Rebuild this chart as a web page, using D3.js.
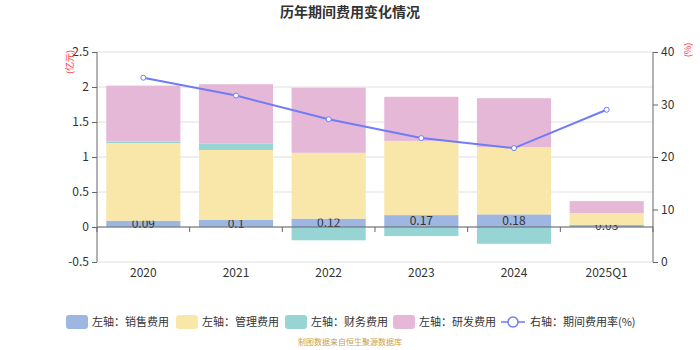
<!DOCTYPE html>
<html><head><meta charset="utf-8">
<script src="https://cdn.jsdelivr.net/npm/d3@7"></script>
<style>body{margin:0;background:#fff}svg{display:block;font-family:"Noto Sans CJK SC","Noto Sans",sans-serif}</style>
</head><body><svg id="c" width="700" height="350"></svg>
<script>
const categories = ["2020","2021","2022","2023","2024","2025Q1"];
const sales   = [0.09, 0.10, 0.12, 0.17, 0.18, 0.03];
const admin   = [1.11, 1.00, 0.94, 1.06, 0.96, 0.17];
const finance = [0.02, 0.09, -0.19, -0.13, -0.24, 0.00];
const rnd     = [0.80, 0.85, 0.93, 0.63, 0.70, 0.17];
const rate    = [35.1, 31.7, 27.2, 23.6, 21.7, 29.0];
const leftTicks = [-0.5, 0, 0.5, 1, 1.5, 2, 2.5];
const rightTicks = [0, 10, 20, 30, 40];

const seriesNames = ["左轴：销售费用","左轴：管理费用","左轴：财务费用","左轴：研发费用"];
const colors = ["#9db7e2","#f8e7a9","#97d5d4","#e6b8d8"];
const lineColor = "#6f7cf6";

const svg = d3.select("#c");
const x = d3.scaleBand().domain(categories).range([97, 653]).padding(0);
const yL = d3.scaleLinear().domain([-0.5, 2.5]).range([262, 52]);
const yR = d3.scaleLinear().domain([0, 40]).range([262, 52]);

// title
svg.append("text").attr("x",350).attr("y",17).attr("text-anchor","middle")
  .attr("font-size",14).attr("font-weight","bold").attr("fill","#333").text("历年期间费用变化情况");

// grid
svg.append("g").selectAll("line").data(leftTicks).join("line")
  .attr("x1",97).attr("x2",653).attr("y1",d=>yL(d)).attr("y2",d=>yL(d))
  .attr("stroke","#e0e0e0").attr("stroke-width",1);

// stacked bars
const data = [sales, admin, finance, rnd];
const posBase = categories.map(()=>0), negBase = categories.map(()=>0);
const bw = x.bandwidth()*0.8;
const gBars = svg.append("g");
data.forEach((vals, si) => {
  const rects = vals.map((v,i)=>{
    let y0,y1;
    if (v>=0){ y0=posBase[i]; y1=y0+v; posBase[i]=y1; }
    else { y0=negBase[i]; y1=y0+v; negBase[i]=y1; }
    return {i, v, y0, y1};
  });
  gBars.append("g").selectAll("rect").data(rects.filter(r=>r.v!==0)).join("rect")
    .attr("x", r=>x(categories[r.i]) + (x.bandwidth()-bw)/2)
    .attr("width", bw)
    .attr("y", r=>Math.min(yL(r.y0), yL(r.y1)))
    .attr("height", r=>Math.abs(yL(r.y0)-yL(r.y1)))
    .attr("fill", colors[si]);
  if (si===0) {
    gBars.append("g").selectAll("text").data(rects).join("text")
      .attr("x", r=>x(categories[r.i]) + x.bandwidth()/2)
      .attr("y", r=>(yL(r.y0)+yL(r.y1))/2)
      .attr("dy","0.35em").attr("text-anchor","middle").attr("font-size",12).attr("fill","#333")
      .text(r=>r.v);
  }
});

// x axis at zero
const xAxisG = svg.append("g").attr("transform",`translate(0,${yL(0)})`);
xAxisG.append("line").attr("x1",97).attr("x2",653).attr("stroke","#666");
xAxisG.selectAll(".tk").data(d3.range(categories.length+1)).join("line")
  .attr("x1",i=>97+i*x.bandwidth()).attr("x2",i=>97+i*x.bandwidth())
  .attr("y1",0).attr("y2",5).attr("stroke","#666");
svg.append("g").selectAll("text").data(categories).join("text")
  .attr("x",d=>x(d)+x.bandwidth()/2).attr("y",277).attr("text-anchor","middle")
  .attr("font-size",12).attr("fill","#333").text(d=>d);

// left axis
const gl = svg.append("g").attr("transform","translate(97,0)")
  .call(d3.axisLeft(yL).tickValues(leftTicks).tickSize(5).tickPadding(3).tickFormat(d=>d));
gl.select(".domain").attr("stroke","#666").attr("d","M0,52V262");
gl.selectAll(".tick line").attr("stroke","#666");
gl.selectAll(".tick text").attr("font-size",12).attr("fill","#333").attr("font-family","Noto Sans CJK SC, Noto Sans, sans-serif");

// right axis
const gr = svg.append("g").attr("transform","translate(653,0)")
  .call(d3.axisRight(yR).tickValues(rightTicks).tickSize(5).tickPadding(3));
gr.select(".domain").attr("stroke","#666").attr("d","M0,52V262");
gr.selectAll(".tick line").attr("stroke","#666");
gr.selectAll(".tick text").attr("font-size",12).attr("fill","#333").attr("font-family","Noto Sans CJK SC, Noto Sans, sans-serif");

// unit labels
svg.append("text").attr("transform","translate(70,62) rotate(-90)").attr("text-anchor","middle")
  .attr("dy","0.35em").attr("font-size",9).attr("fill","#f33").text("(亿元)");
svg.append("text").attr("transform","translate(688,50) rotate(-90)").attr("text-anchor","middle")
  .attr("dy","0.35em").attr("font-size",9).attr("fill","#f33").text("(%)");

// line
const lineGen = d3.line().x((d,i)=>x(categories[i])+x.bandwidth()/2).y(d=>yR(d));
svg.append("path").datum(rate).attr("d",lineGen).attr("fill","none")
  .attr("stroke",lineColor).attr("stroke-width",2);
svg.append("g").selectAll("circle").data(rate).join("circle")
  .attr("cx",(d,i)=>x(categories[i])+x.bandwidth()/2).attr("cy",d=>yR(d)).attr("r",2.5)
  .attr("fill","#fff").attr("stroke",lineColor).attr("stroke-width",1);

// legend
const legendX = [66, 176, 285, 393];
const lg = svg.append("g");
seriesNames.forEach((n,i)=>{
  lg.append("rect").attr("x",legendX[i]).attr("y",315).attr("width",22).attr("height",14).attr("rx",3)
    .attr("fill",colors[i]);
  lg.append("text").attr("x",legendX[i]+26).attr("y",322).attr("dy","0.35em")
    .attr("font-size",11).attr("fill","#333").text(n);
});
lg.append("line").attr("x1",501).attr("x2",525).attr("y1",322).attr("y2",322).attr("stroke",lineColor).attr("stroke-width",1.5);
lg.append("circle").attr("cx",513).attr("cy",322).attr("r",5).attr("fill","#fff").attr("stroke",lineColor).attr("stroke-width",1.5);
lg.append("text").attr("x",530).attr("y",322).attr("dy","0.35em")
  .attr("font-size",11).attr("fill","#333").text("右轴：期间费用率(%)");

// footer
svg.append("text").attr("x",350).attr("y",345).attr("text-anchor","middle")
  .attr("font-size",8).attr("fill","#c9a04a").text("制图数据来自恒生聚源数据库");
</script></body></html>
